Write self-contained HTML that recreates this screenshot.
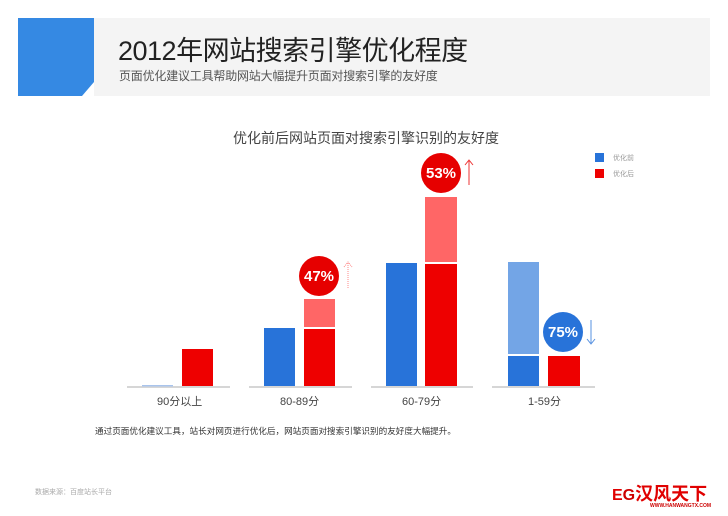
<!DOCTYPE html>
<html><head><meta charset="utf-8"><style>
body{margin:0;width:728px;height:516px;background:#fff;overflow:hidden;position:relative;font-family:"Liberation Sans","Noto Sans CJK SC",sans-serif}
.a{position:absolute;white-space:nowrap}
</style></head><body>
<div class="a" style="left:94px;top:18px;width:616px;height:78px;background:#f4f4f4"></div>
<svg class="a" style="left:0;top:0" width="728" height="516">
<polygon points="18,18 94,18 94,82 82,96 18,96" fill="#3589e3"/>
<g fill="#d6d6d6"><rect x="127" y="386" width="103" height="2"/><rect x="249" y="386" width="103" height="2"/><rect x="371" y="386" width="102" height="2"/><rect x="492" y="386" width="103" height="2"/></g>
<rect x="142" y="385" width="31" height="1.5" fill="#a9c4ec"/>
<rect x="182" y="349" width="31" height="37" fill="#ee0000"/>
<rect x="264" y="328" width="31" height="58" fill="#2873d9"/>
<rect x="304" y="299" width="31" height="28" fill="#ff6666"/>
<rect x="304" y="329" width="31" height="57" fill="#ee0000"/>
<rect x="386" y="263" width="31" height="123" fill="#2873d9"/>
<rect x="425" y="197" width="32" height="65" fill="#ff6666"/>
<rect x="425" y="264" width="32" height="122" fill="#ee0000"/>
<rect x="508" y="262" width="31" height="92" fill="#73a5e6"/>
<rect x="508" y="356" width="31" height="30" fill="#2873d9"/>
<rect x="548" y="356" width="32" height="30" fill="#ee0000"/>
<circle cx="319" cy="276" r="20" fill="#e60000"/>
<circle cx="441" cy="173" r="20" fill="#e60000"/>
<circle cx="563" cy="332" r="20" fill="#2873d9"/>
<g font-family="Liberation Sans,sans-serif" font-weight="bold" font-size="15" fill="#fff" text-anchor="middle">
<text x="319" y="281">47%</text><text x="441" y="178">53%</text><text x="563" y="337">75%</text></g>
<g fill="none" stroke-width="1">
<path d="M348,288V263M344,267L348,262L352,267" stroke="#ff8888" stroke-dasharray="1,1"/>
<path d="M469,185V161M465,165L469,160L473,165" stroke="#ee3333"/>
<path d="M591,320V343M587,339L591,344L595,339" stroke="#5590e0"/>
</g>
<rect x="595" y="153" width="9" height="9" fill="#2873d9"/>
<rect x="595" y="169" width="9" height="9" fill="#ee0000"/>
</svg>
<div class="a" style="left:118px;top:29px;font-size:27px;color:#222;letter-spacing:-0.5px">2012年网站搜索引擎优化程度</div>
<div class="a" style="left:119px;top:67px;font-size:12px;color:#555;letter-spacing:-0.2px">页面优化建议工具帮助网站大幅提升页面对搜索引擎的友好度</div>
<div class="a" style="left:233px;top:128px;font-size:14px;color:#444">优化前后网站页面对搜索引擎识别的友好度</div>
<div class="a" style="left:613px;top:153px;font-size:7px;color:#999">优化前</div>
<div class="a" style="left:613px;top:169px;font-size:7px;color:#999">优化后</div>
<div class="a" style="left:157px;top:393px;font-size:11px;color:#444">90分以上</div>
<div class="a" style="left:280px;top:393px;font-size:11px;color:#444">80-89分</div>
<div class="a" style="left:402px;top:393px;font-size:11px;color:#444">60-79分</div>
<div class="a" style="left:528px;top:393px;font-size:11px;color:#444">1-59分</div>
<div class="a" style="left:95px;top:425px;font-size:8.6px;color:#333">通过页面优化建议工具，站长对网页进行优化后，网站页面对搜索引擎识别的友好度大幅提升。</div>
<div class="a" style="left:35px;top:487px;font-size:7px;color:#aaa">数据来源：百度站长平台</div>
<div class="a" style="left:612px;top:480px;font-size:16px;font-weight:bold;color:#e00000">E<span style="color:#c00">G</span><span style="font-size:18px">汉风天下</span></div>
<div class="a" style="left:650px;top:503px;font-size:5px;font-weight:bold;color:#c00">WWW.HANWANGTX.COM</div>
</body></html>
